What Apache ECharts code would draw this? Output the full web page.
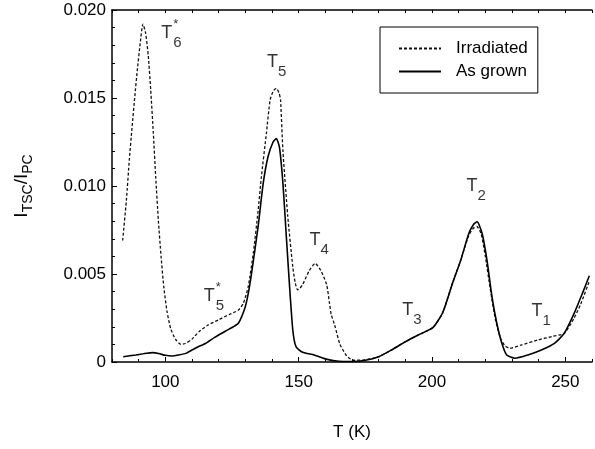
<!DOCTYPE html>
<html>
<head>
<meta charset="utf-8" />
<title>TSC spectra</title>
<script src="https://cdn.jsdelivr.net/npm/echarts@6/dist/echarts.min.js"></script>
<style>body{margin:0;background:#fff;}</style>
</head>
<body>
<div id="main" style="width:595px;height:449px;"></div>
<script type="text/javascript">
// Irradiated (dotted)
var irrT = [84, 85.4, 86.5, 87.5, 88.5, 89.5, 90.5, 91.6, 92.6, 93.6, 94.5, 95.5, 96.4, 97.4, 98.4, 99.4, 100.6, 102, 103.8, 105.8, 107.5, 110, 112.6, 116, 120, 124, 127.4, 129.3, 131.1, 133, 134.8, 136, 137.9, 139.3, 140.5, 141.6, 142.6, 143.2, 144.1, 145.9, 147.8, 148.7, 149.6, 150.5, 151.5, 154, 156.2, 158.3, 160.5, 161.5, 162.2, 163.5, 165.5, 168, 170.5, 175, 180, 185, 190, 195, 200.3, 204, 207.7, 210.8, 213.8, 215.5, 216.8, 218.4, 220, 221.8, 223.8, 225.8, 227.5, 229.3, 233.6, 239.7, 245, 249.6, 253.3, 255.8, 259];
var irrV = [0.0069, 0.0092, 0.0115, 0.0133, 0.0150, 0.0166, 0.0180, 0.0192, 0.0187, 0.0174, 0.0155, 0.0130, 0.0105, 0.0080, 0.0060, 0.0043, 0.0029, 0.0019, 0.0013, 0.0010, 0.00105, 0.0013, 0.00172, 0.0021, 0.0024, 0.0027, 0.00295, 0.00335, 0.0043, 0.0062, 0.0086, 0.0105, 0.0130, 0.0149, 0.0154, 0.01555, 0.0153, 0.0149, 0.0120, 0.0083, 0.0054, 0.0045, 0.0041, 0.0042, 0.0044, 0.0052, 0.0056, 0.0052, 0.0044, 0.0034, 0.0027, 0.0021, 0.0010, 0.00035, 0.0001, 0.00012, 0.0003, 0.0007, 0.00115, 0.00155, 0.00195, 0.0028, 0.0045, 0.0058, 0.0072, 0.0076, 0.0077, 0.0073, 0.0060, 0.0042, 0.0024, 0.0013, 0.0009, 0.00078, 0.00097, 0.00125, 0.00145, 0.00163, 0.0025, 0.0033, 0.0046];

// As grown (solid)
var grT = [84.2, 89, 93, 95.3, 97.5, 100, 102.5, 105, 107.7, 111.4, 115, 118.5, 122.5, 125.5, 127.4, 129.9, 131.1, 132.3, 134.8, 136.7, 138.5, 140.4, 141.6, 142.8, 144.1, 145.3, 146.5, 147.8, 149, 151.5, 155.8, 160.7, 165, 170, 175, 180, 185, 190, 195, 200.3, 204, 207.7, 210.8, 213.8, 215.5, 216.9, 218.8, 220.6, 222.5, 224.3, 226.2, 228, 231.1, 236, 241, 245.9, 249.6, 253.3, 256.4, 259];
var grV = [0.0003, 0.0004, 0.0005, 0.00053, 0.00048, 0.00038, 0.00034, 0.0004, 0.00049, 0.0008, 0.00105, 0.0014, 0.00175, 0.0020, 0.0022, 0.0031, 0.0039, 0.0050, 0.0077, 0.01015, 0.01166, 0.0125, 0.0127, 0.0122, 0.01015, 0.0073, 0.0045, 0.00182, 0.00087, 0.00055, 0.0004, 0.00015, 0.00004, 0.00003, 0.0001, 0.0003, 0.0007, 0.00115, 0.00155, 0.00195, 0.0028, 0.00447, 0.0058, 0.0073, 0.0078, 0.00797, 0.0073, 0.0058, 0.0037, 0.0022, 0.00106, 0.0004, 0.00021, 0.0004, 0.00068, 0.00106, 0.00163, 0.00276, 0.0039, 0.0049];

// peak annotations
var noteT = [100.7, 140.4, 116.7, 156.3, 191.1, 215.2, 239.6];
var noteV = [0.01869, 0.01705, 0.00375, 0.00693, 0.00295, 0.0100, 0.0029];
var noteSub = ['6', '5', '5', '4', '3', '2', '1'];
var noteStar = [true, false, true, false, false, false, false];

var xLabels = [100, 150, 200, 250];

function pairs(xs, ys) {
  var out = [];
  for (var i = 0; i < xs.length; i++) out.push([xs[i], ys[i]]);
  return out;
}
var noteData = [];
for (var i = 0; i < noteT.length; i++) noteData.push([noteT[i], noteV[i], noteSub[i], noteStar[i] ? 1 : 0]);

var myChart = echarts.init(document.getElementById('main'));
var font = 'Liberation Sans, Arial, Helvetica, sans-serif';

var option = {
  animation: false,
  backgroundColor: '#fff',
  textStyle: { fontFamily: font, color: '#000' },
  grid: { left: 112, top: 10, width: 486, height: 352, containLabel: false },
  legend: {
    orient: 'vertical',
    left: 380,
    top: 27,
    itemWidth: 42,
    itemHeight: 14,
    itemGap: 6,
    padding: [13, 10, 13, 18],
    borderColor: '#000',
    borderWidth: 1,
    itemStyle: { opacity: 0 },
    textStyle: { fontSize: 17, color: '#000', fontFamily: font, padding: [0, 0, 0, 10] },
    data: ['Irradiated', 'As grown']
  },
  xAxis: [{
    // bottom axis, ticks every 10 K
    type: 'value',
    min: 80, max: 260, interval: 10,
    position: 'bottom',
    name: 'T (K)',
    nameLocation: 'middle',
    nameGap: 62,
    nameTextStyle: { fontSize: 17, color: '#000', fontFamily: font },
    axisLine: { lineStyle: { color: '#000', width: 1.5 } },
    axisTick: { inside: true, length: 3, lineStyle: { color: '#000' } },
    splitLine: { show: false },
    axisLabel: {
      fontSize: 17, color: '#000', margin: 12,
      formatter: function (v) { return xLabels.indexOf(v) >= 0 ? String(v) : ''; }
    }
  }, {
    // top frame
    type: 'value',
    min: 80, max: 260, interval: 10,
    position: 'top',
    axisLine: { lineStyle: { color: '#000', width: 1.5 } },
    axisTick: { inside: true, length: 3, lineStyle: { color: '#000' } },
    axisLabel: { show: false },
    splitLine: { show: false }
  }, {
    // longer major ticks at the labelled values
    type: 'value',
    min: 80, max: 260, interval: 10,
    position: 'bottom',
    axisLine: { show: false },
    axisTick: { inside: true, length: 5, customValues: xLabels, lineStyle: { color: '#000' } },
    axisLabel: { show: false },
    splitLine: { show: false }
  }],
  yAxis: {
    type: 'value',
    min: 0, max: 0.020, interval: 0.005,
    name: '{i|I}{sub|TSC}{i|/I}{sub|PC}',
    nameLocation: 'middle',
    nameRotate: 90,
    nameGap: 77,
    nameTextStyle: {
      rich: {
        i: { fontSize: 19, fontFamily: font, color: '#000' },
        sub: { fontSize: 14, fontFamily: font, color: '#000', padding: [12, 0, 0, 0] }
      }
    },
    axisLine: { show: true, lineStyle: { color: '#000', width: 1.5 } },
    axisTick: { show: true, inside: true, length: 5, lineStyle: { color: '#000' } },
    minorTick: { show: true, splitNumber: 5, length: 3, lineStyle: { color: '#000' } },
    splitLine: { show: false },
    axisLabel: {
      fontSize: 17, color: '#000', margin: 6,
      formatter: function (v) { return v === 0 ? '0' : v.toFixed(3); }
    }
  },
  series: [{
    name: 'Irradiated',
    type: 'line',
    symbol: 'none',
    smooth: 0.2,
    data: pairs(irrT, irrV),
    lineStyle: { color: '#111', width: 1.3, type: [3, 2] },
    itemStyle: { color: '#111' }
  }, {
    name: 'As grown',
    type: 'line',
    symbol: 'none',
    smooth: 0.2,
    data: pairs(grT, grV),
    lineStyle: { color: '#000', width: 1.6 },
    itemStyle: { color: '#000' }
  }, {
    name: 'notes',
    type: 'scatter',
    symbolSize: 0,
    silent: true,
    data: noteData,
    label: {
      show: true,
      position: 'inside',
      align: 'left',
      offset: [-6, 0],
      formatter: function (p) {
        return '{t|T}' + (p.value[3] ? '{a|*}' : '') + '{s|' + p.value[2] + '}';
      },
      rich: {
        t: { fontSize: 18, fontFamily: font, color: '#000' },
        s: { fontSize: 15, fontFamily: font, color: '#000', padding: [19, 0, 0, 0] },
        a: { fontSize: 13, fontFamily: font, color: '#000', width: 0, padding: [0, 0, 18, 1] }
      }
    }
  }]
};

myChart.setOption(option);
</script>
</body>
</html>
